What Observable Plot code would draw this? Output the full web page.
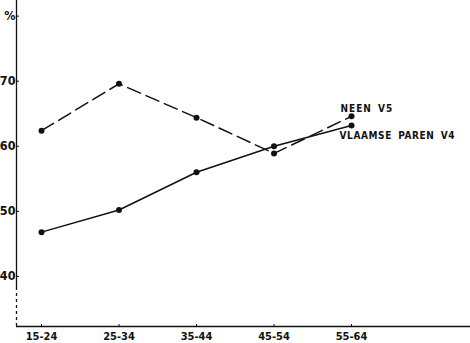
<!DOCTYPE html>
<html>
<head>
<meta charset="utf-8">
<script src="https://cdn.jsdelivr.net/npm/d3@7"></script>
<script src="https://cdn.jsdelivr.net/npm/@observablehq/plot@0.6"></script>
<style>
  html, body { margin: 0; padding: 0; background: #fff; }
  svg { display: block; }
  .lbl-a text { letter-spacing: 1px; word-spacing: 2px; }
  .lbl-b text { letter-spacing: 0.6px; word-spacing: 2.5px; }
</style>
</head>
<body>
<div id="chart"></div>
<script>
const categories = ["15-24", "25-34", "35-44", "45-54", "55-64"];
const neenV5 = [62.4, 69.6, 64.4, 58.9, 64.6];
const vlaamseParenV4 = [46.8, 50.2, 56.0, 60.0, 63.2];
const yTicks = [40, 50, 60, 70, 80];
const yTickLabels = ["40", "50", "60", "70", "%"];
const seriesNames = ["NEEN V5", "VLAAMSE PAREN V4"];

const xDomain = [-0.3226, 5.535];
const yDomain = [32.3, 82.4];
const yBreak = 38;

const dashed = categories.map((c, i) => ({i, v: neenV5[i]}));
const solid = categories.map((c, i) => ({i, v: vlaamseParenV4[i]}));
const last = categories.length - 1;

const font = "'DejaVu Sans Condensed', 'DejaVu Sans', sans-serif";

const chart = Plot.plot({
  width: 470,
  height: 343,
  marginLeft: 16,
  marginRight: 0,
  marginTop: 0,
  marginBottom: 17,
  style: {fontFamily: font, fontSize: "11px", fontWeight: "bold", color: "#111", background: "#fff"},
  x: {domain: xDomain, range: [16, 470]},
  y: {domain: yDomain, range: [326, 0]},
  marks: [
    Plot.axisY({
      ticks: yTicks,
      tickFormat: (d) => yTickLabels[yTicks.indexOf(d)],
      tickSize: -3,
      tickPadding: 4,
      fontSize: 12.5,
      fontWeight: "bold",
      stroke: "#111",
      label: null
    }),
    Plot.axisX({
      ticks: categories.map((c, i) => i),
      tickFormat: (i) => categories[i],
      tickSize: -2,
      tickPadding: 8,
      fontSize: 11,
      fontWeight: "bold",
      stroke: "#111",
      label: null
    }),
    Plot.ruleX([xDomain[0]], {y1: yBreak, y2: yDomain[1], stroke: "#111", strokeWidth: 1.3}),
    Plot.ruleX([xDomain[0]], {y1: yDomain[0], y2: yBreak, stroke: "#111", strokeWidth: 1.3, strokeDasharray: "3,3"}),
    Plot.ruleY([yDomain[0]], {stroke: "#111", strokeWidth: 1.3}),
    Plot.line(dashed, {x: "i", y: "v", stroke: "#111", strokeWidth: 1.5, strokeDasharray: "14,6"}),
    Plot.line(solid, {x: "i", y: "v", stroke: "#111", strokeWidth: 1.5}),
    Plot.dot(dashed, {x: "i", y: "v", r: 3, fill: "#111"}),
    Plot.dot(solid, {x: "i", y: "v", r: 3, fill: "#111"}),
    Plot.text([seriesNames[0]], {x: last, y: neenV5[last], text: (d) => d, textAnchor: "start", dx: -11, dy: -8, fontSize: 10, fontWeight: "bold", fill: "#111", className: "lbl-a"}),
    Plot.text([seriesNames[1]], {x: last, y: vlaamseParenV4[last], text: (d) => d, textAnchor: "start", dx: -12, dy: 10, fontSize: 10, fontWeight: "bold", fill: "#111", className: "lbl-b"})
  ]
});
document.getElementById("chart").appendChild(chart);
</script>
</body>
</html>
